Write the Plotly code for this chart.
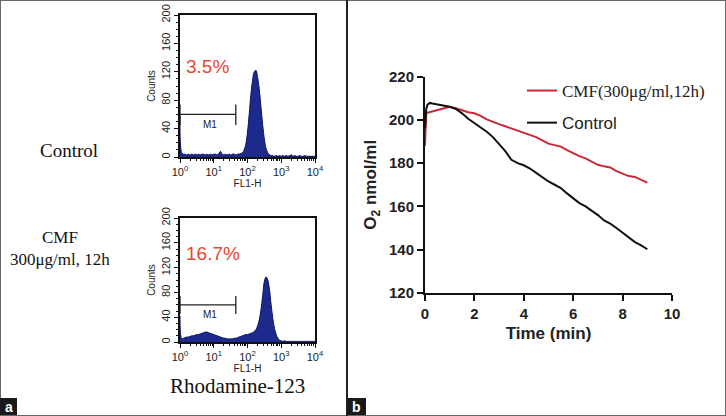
import plotly.graph_objects as go

W, H = 726, 416

# ---------------- data: panel a (flow cytometry histograms) ----------------
fl1_exponents = [0.00, 0.05, 0.10, 0.15, 0.20, 0.25, 0.30, 0.35, 0.40, 0.45,
                 0.50, 0.55, 0.60, 0.65, 0.70, 0.75, 0.80, 0.85, 0.90, 0.95,
                 1.00, 1.05, 1.10, 1.15, 1.20, 1.25, 1.30, 1.35, 1.40, 1.45,
                 1.50, 1.55, 1.60, 1.65, 1.70, 1.75, 1.80, 1.85, 1.90, 1.95,
                 2.00, 2.05, 2.10, 2.15, 2.20, 2.25, 2.30, 2.35, 2.40, 2.45,
                 2.50, 2.55, 2.60, 2.65, 2.70, 2.75, 2.80, 2.85, 2.90, 2.95,
                 3.00, 3.05, 3.10, 3.15, 3.20, 3.25, 3.30, 3.35, 3.40, 3.45,
                 3.50, 3.55, 3.60, 3.65, 3.70, 3.75, 3.80, 3.85, 3.90, 3.95, 4.00]

counts_control = [58, 6, 4, 4, 3, 4, 3, 4, 3, 4,
                  3, 4, 3, 4, 4, 3, 4, 3, 4, 3,
                  4, 4, 3, 5, 8, 4, 3, 4, 3, 4,
                  3, 4, 4, 3, 4, 4, 5, 6, 10, 18,
                  35, 60, 88, 108, 120, 122, 112, 95, 70, 45,
                  25, 12, 6, 3, 2, 2, 1, 2, 1, 2,
                  1, 2, 1, 2, 1, 2, 3, 1, 2, 1,
                  1, 2, 1, 1, 2, 1, 1, 1, 1, 1, 1]

counts_cmf = [42, 5, 6, 7, 8, 8, 9, 10, 10, 11,
              12, 12, 13, 14, 15, 16, 16, 15, 14, 13,
              12, 11, 10, 9, 8, 7, 6, 6, 5, 5,
              5, 5, 6, 6, 7, 8, 9, 10, 11, 12,
              12, 13, 14, 15, 17, 20, 26, 36, 52, 75,
              98, 105, 100, 85, 60, 38, 22, 12, 6, 3,
              2, 1, 2, 1, 1, 1, 1, 1, 1, 1,
              1, 1, 1, 1, 1, 1, 1, 1, 1, 1, 1]

m1_gate = [1, 45]          # FL1-H range of the M1 marker
m1_level = 60              # count level of the marker bar
m1_cap = [45, 74]          # vertical extent of the end caps
pct_control = "3.5%"
pct_cmf = "16.7%"

hist_x_ticks = [1, 10, 100, 1000, 10000]
hist_x_ticktext = ["10<sup>0</sup>", "10<sup>1</sup>", "10<sup>2</sup>", "10<sup>3</sup>", "10<sup>4</sup>"]
hist_y_ticks = [0, 40, 80, 120, 160, 200]

# ---------------- data: panel b (oxygen consumption) ----------------
time_min = [0.00, 0.05, 0.10, 0.20, 0.30, 0.50, 0.75, 1.00, 1.25, 1.50,
            1.75, 2.00, 2.25, 2.50, 2.75, 3.00, 3.25, 3.50, 3.75, 4.00,
            4.25, 4.50, 4.75, 5.00, 5.25, 5.50, 5.75, 6.00, 6.25, 6.50,
            6.75, 7.00, 7.25, 7.50, 7.75, 8.00, 8.25, 8.50, 8.75, 9.00]

o2_control = [196.0, 205.0, 207.0, 207.8, 207.5, 207.0, 206.5, 206.0, 205.0, 203.0,
              200.5, 198.5, 196.5, 194.5, 192.0, 189.0, 185.5, 181.5, 180.0, 179.0,
              177.5, 175.5, 173.5, 171.5, 170.0, 168.5, 166.0, 163.8, 161.5, 160.0,
              158.0, 156.0, 153.5, 152.0, 150.0, 147.7, 145.5, 143.5, 142.0, 140.2]

o2_cmf = [188.0, 203.0, 203.3, 203.6, 204.0, 204.6, 205.4, 206.0, 205.3, 204.3,
          203.5, 203.0, 201.8, 200.2, 199.0, 198.0, 197.0, 196.0, 195.0, 194.0,
          193.0, 192.0, 190.5, 189.0, 188.3, 187.6, 186.0, 184.6, 183.2, 182.2,
          180.8, 179.2, 178.5, 178.0, 176.3, 175.0, 174.0, 173.6, 172.3, 171.0]

time_ticks = [0, 2, 4, 6, 8, 10]
o2_ticks = [120, 140, 160, 180, 200, 220]

NAVY = "#1d2a8c"
RED_TXT = "#e8472e"
RED_LINE = "#c9283a"
SERIF = "Liberation Serif"
SANS = "Liberation Sans"


def px_x(p):
    return p / W


def px_y(p):
    return 1 - p / H


fig = go.Figure()

hist_sets = [
    ("x", "y", counts_control, pct_control, 127),
    ("x2", "y2", counts_cmf, pct_cmf, 143),
]
for xa, ya, counts, pct, pct_y in hist_sets:
    xs = [10 ** e for e in fl1_exponents]
    fig.add_trace(go.Scatter(x=xs, y=counts, xaxis=xa, yaxis=ya, mode="lines",
                             line=dict(color="#0b1260", width=1, shape="spline"),
                             fill="tozeroy", fillcolor=NAVY, showlegend=False,
                             hoverinfo="skip"))
    # M1 marker bar and caps
    fig.add_trace(go.Scatter(x=m1_gate, y=[m1_level, m1_level], xaxis=xa, yaxis=ya,
                             mode="lines", line=dict(color="#222", width=1.3),
                             showlegend=False, hoverinfo="skip"))
    for gx in m1_gate:
        fig.add_trace(go.Scatter(x=[gx, gx], y=m1_cap, xaxis=xa, yaxis=ya,
                                 mode="lines", line=dict(color="#222", width=1.3),
                                 showlegend=False, hoverinfo="skip"))
    fig.add_annotation(x=0.9, y=m1_level - 4, xref=xa, yref=ya, text="M1",
                       showarrow=False, xanchor="center", yanchor="top",
                       font=dict(family=SANS, size=10, color="#222"))
    fig.add_annotation(x=0.12, y=pct_y, xref=xa, yref=ya, text=pct,
                       showarrow=False, xanchor="left", yanchor="middle",
                       font=dict(family=SANS, size=19, color=RED_TXT))

# ---------------- panel b lines ----------------
fig.add_trace(go.Scatter(x=time_min, y=o2_cmf, xaxis="x3", yaxis="y3", mode="lines",
                         name='<span style="font-family:Liberation Serif">CMF(300μg/ml,12h)</span>',
                         legendgroup="cmf",
                         line=dict(color=RED_LINE, width=2)))
fig.add_trace(go.Scatter(x=time_min, y=o2_control, xaxis="x3", yaxis="y3", mode="lines",
                         name="Control", legendgroup="control",
                         line=dict(color="#111", width=2)))

hist_xaxis = dict(type="log", range=[0, 4], tickvals=hist_x_ticks, ticktext=hist_x_ticktext,
                  showline=True, linecolor="#111", linewidth=1.5, mirror=True, automargin=False,
                  ticks="outside", ticklen=4, tickcolor="#111", showgrid=False, zeroline=False,
                  tickfont=dict(family=SANS, size=11, color="#222"),
                  minor=dict(ticks="outside", ticklen=2, tickcolor="#111",
                             tickvals=[m * d for d in [1, 10, 100, 1000] for m in range(2, 10)]),
                  title=dict(text="FL1-H", font=dict(family=SANS, size=10, color="#222"), standoff=1))
hist_yaxis = dict(range=[0, 200], tickvals=hist_y_ticks, tickangle=-90, automargin=False,
                  showline=True, linecolor="#111", linewidth=1.5, mirror=True,
                  ticks="outside", ticklen=4, tickcolor="#111", showgrid=False, zeroline=False,
                  tickfont=dict(family=SANS, size=11, color="#222"),
                  minor=dict(ticks="outside", ticklen=2, tickcolor="#111", dtick=10),
                  title=dict(text="Counts", font=dict(family=SANS, size=10, color="#222"), standoff=2))

fig.update_layout(
    width=W, height=H, margin=dict(l=0, r=0, t=0, b=0, pad=0, autoexpand=False),
    paper_bgcolor="white", plot_bgcolor="white",
    xaxis=dict(hist_xaxis, domain=[px_x(180), px_x(315)], anchor="y"),
    yaxis=dict(hist_yaxis, domain=[px_y(157), px_y(15)], anchor="x"),
    xaxis2=dict(hist_xaxis, domain=[px_x(180), px_x(315)], anchor="y2"),
    yaxis2=dict(hist_yaxis, domain=[px_y(342), px_y(218)], anchor="x2"),
    xaxis3=dict(domain=[px_x(425), px_x(672)], anchor="y3", range=[0, 10], tickvals=time_ticks,
                showline=True, linecolor="#111", linewidth=2, ticks="outside", ticklen=6,
                tickwidth=2, tickcolor="#111", showgrid=False, zeroline=False, automargin=False,
                tickfont=dict(family=SANS, size=15, color="#222", weight="bold"),
                title=dict(text="Time (min)", font=dict(family=SANS, size=17, color="#222", weight="bold"),
                           standoff=6)),
    yaxis3=dict(domain=[px_y(293), px_y(76.5)], anchor="x3", range=[120, 220], tickvals=o2_ticks,
                showline=True, linecolor="#111", linewidth=2, ticks="outside", ticklen=6,
                tickwidth=2, tickcolor="#111", showgrid=False, zeroline=False, automargin=False,
                tickfont=dict(family=SANS, size=15, color="#222", weight="bold"),
                title=dict(text="O<sub>2</sub> nmol/ml",
                           font=dict(family=SANS, size=17, color="#222", weight="bold"), standoff=8)),
    legend=dict(x=px_x(522), y=px_y(73), xanchor="left", yanchor="top",
                font=dict(family=SANS, size=17, color="#222"), bgcolor="rgba(0,0,0,0)",
                traceorder="grouped", tracegroupgap=7, itemwidth=30),
    showlegend=True,
)

# left-column labels
fig.add_annotation(x=px_x(69), y=px_y(138), xref="paper", yref="paper", text="Control",
                   showarrow=False, xanchor="center",
                   font=dict(family=SERIF, size=19, color="#111"))
fig.add_annotation(x=px_x(60), y=px_y(248), xref="paper", yref="paper",
                   text="CMF<br>300μg/ml, 12h", showarrow=False, xanchor="center",
                   font=dict(family=SERIF, size=17, color="#111"))
fig.add_annotation(x=px_x(237), y=px_y(400), xref="paper", yref="paper", text="Rhodamine-123",
                   showarrow=False, xanchor="center",
                   font=dict(family=SERIF, size=21, color="#111"))

# frame, divider and panel tags
fig.add_shape(type="rect", xref="paper", yref="paper", x0=0, y0=0, x1=1, y1=1,
              line=dict(color="#666", width=2))
fig.add_shape(type="line", xref="paper", yref="paper", x0=px_x(347), x1=px_x(347), y0=0, y1=1,
              line=dict(color="#222", width=2))
for tag, x0, x1 in [("a", 0, 17), ("b", 347, 366)]:
    fig.add_shape(type="rect", xref="paper", yref="paper", x0=px_x(x0), x1=px_x(x1),
                  y0=px_y(415), y1=px_y(398), fillcolor="#1a1a1a", line=dict(width=0))
    fig.add_annotation(x=px_x((x0 + x1) / 2), y=px_y(406.5), xref="paper", yref="paper", text=tag,
                       showarrow=False, xanchor="center", yanchor="middle",
                       font=dict(family=SANS, size=14, color="white", weight="bold"))

fig.write_html("out.html", config={"displayModeBar": False},
               post_script="document.body.style.margin='0';document.body.style.overflow='hidden';")
